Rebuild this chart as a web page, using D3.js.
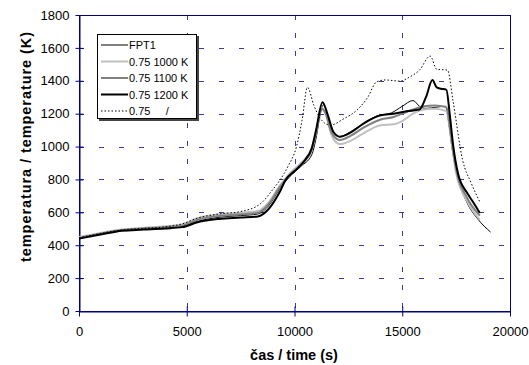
<!DOCTYPE html>
<html>
<head>
<meta charset="utf-8">
<script src="https://cdn.jsdelivr.net/npm/d3@7"></script>
<style>
  body { margin: 0; background: #fff; }
  svg text { font-family: "Liberation Sans", Arial, sans-serif; }
</style>
</head>
<body>
<svg id="chart" width="529" height="365"></svg>
<script>
// time in thousands of seconds, temperature in K
const fpt1Time = [0, 1, 2, 3, 4, 4.8, 5.5, 6.5, 7.5, 8.3, 8.8, 9.3, 9.8, 10.3, 10.8, 11.0, 11.2, 11.35, 11.55, 11.8, 12.1, 12.6, 13.2, 13.8, 14.5, 15.0, 15.5, 15.8, 16.1, 16.6, 17.0, 17.15, 17.3, 17.6, 18.0, 18.5, 19.1];
const fpt1Temp = [445, 470, 492, 500, 508, 515, 545, 570, 580, 590, 640, 740, 820, 880, 950, 1050, 1200, 1255, 1180, 1090, 1060, 1090, 1140, 1185, 1205, 1245, 1280, 1245, 1232, 1240, 1245, 1150, 1000, 800, 660, 560, 480];

const k1000Time = [0, 1, 2, 3, 4, 4.8, 5.5, 6.5, 7.5, 8.3, 8.8, 9.3, 9.8, 10.3, 10.8, 11.0, 11.25, 11.5, 11.75, 12.1, 12.6, 13.2, 14.0, 14.6, 15.0, 15.5, 16.0, 16.5, 17.05, 17.25, 17.5, 18.0, 18.6];
const k1000Temp = [450, 475, 495, 506, 515, 528, 565, 588, 598, 608, 660, 760, 840, 900, 990, 1090, 1240, 1180, 1060, 1015, 1035, 1080, 1130, 1135, 1155, 1200, 1225, 1230, 1215, 1060, 840, 670, 555];

const k1100Time = [0, 1, 2, 3, 4, 4.8, 5.5, 6.5, 7.5, 8.3, 8.8, 9.3, 9.8, 10.3, 10.8, 11.0, 11.25, 11.45, 11.7, 12.1, 12.6, 13.2, 14.0, 14.6, 15.0, 15.5, 16.0, 16.5, 17.05, 17.25, 17.5, 18.0, 18.6];
const k1100Temp = [445, 470, 492, 502, 510, 520, 555, 578, 588, 598, 650, 750, 830, 890, 980, 1080, 1230, 1200, 1090, 1040, 1065, 1115, 1165, 1180, 1200, 1225, 1245, 1250, 1240, 1080, 860, 690, 580];

const k1200Time = [0, 1, 2, 3, 4, 4.8, 5.5, 6.5, 7.5, 8.3, 8.8, 9.3, 9.6, 10, 10.5, 10.8, 11.0, 11.3, 11.55, 11.8, 12.1, 12.6, 13.2, 14.0, 14.6, 15.2, 15.8, 16.1, 16.4, 16.6, 16.8, 17.05, 17.2, 17.35, 17.6, 18.0, 18.3, 18.6];
const k1200Temp = [440, 465, 488, 495, 502, 510, 540, 560, 568, 575, 620, 720, 800, 850, 920, 990, 1100, 1270, 1190, 1090, 1060, 1085, 1140, 1190, 1200, 1215, 1225, 1300, 1404, 1360, 1352, 1345, 1200, 1020, 830, 720, 660, 596];

const dotTime = [0, 1, 2, 3, 4, 4.8, 5.5, 6.5, 7.5, 8.4, 9.0, 9.33, 9.7, 10.1, 10.35, 10.6, 10.9, 11.2, 11.65, 12.3, 12.9, 13.4, 13.8, 14.2, 14.9, 15.3, 15.8, 16.3, 16.6, 17.1, 17.35, 17.8, 18.2, 18.6];
const dotTemp = [445, 472, 493, 503, 512, 530, 565, 590, 605, 650, 740, 797, 880, 1003, 1160, 1360, 1250, 1170, 1130, 1170, 1222, 1300, 1392, 1405, 1398, 1420, 1465, 1550, 1470, 1465, 1283, 918, 778, 663];

const seriesNames = ["FPT1", "0.75 1000 K", "0.75 1100 K", "0.75 1200 K", "0.75     /"];
const xTicks = [0, 5000, 10000, 15000, 20000];
const yTicks = [0, 200, 400, 600, 800, 1000, 1200, 1400, 1600, 1800];

const styles = [
  {color: "#000", width: 1, dash: null},
  {color: "#c0c0c0", width: 2, dash: null},
  {color: "#808080", width: 2, dash: null},
  {color: "#000", width: 2, dash: null},
  {color: "#000", width: 1, dash: "1.5,2"}
];

const series = [
  {t: fpt1Time, v: fpt1Temp},
  {t: k1000Time, v: k1000Temp},
  {t: k1100Time, v: k1100Temp},
  {t: k1200Time, v: k1200Temp},
  {t: dotTime, v: dotTemp}
].map((s, i) => ({name: seriesNames[i], style: styles[i], points: s.t.map((t, j) => [t * 1000, s.v[j]])}));

const svg = d3.select("#chart");
const pLeft = 79, pRight = 510, pTop = 15, pBottom = 311;
const axisColor = "#000080";

const x = d3.scaleLinear().domain([0, 20000]).range([pLeft, pRight]);
const y = d3.scaleLinear().domain([0, 1800]).range([pBottom, pTop]);

// grid lines
const grid = svg.append("g");
grid.selectAll("line.h").data(yTicks.filter(d => d > 0 && d < 1800)).enter()
  .append("line")
  .attr("x1", pLeft).attr("x2", pRight)
  .attr("y1", d => Math.round(y(d)) + 0.5).attr("y2", d => Math.round(y(d)) + 0.5)
  .attr("stroke", "#3a3aa0").attr("stroke-dasharray", "5,15");
grid.selectAll("line.v").data(xTicks.filter(d => d > 0 && d < 20000)).enter()
  .append("line")
  .attr("y1", pTop).attr("y2", pBottom)
  .attr("x1", d => Math.round(x(d)) + 0.5).attr("x2", d => Math.round(x(d)) + 0.5)
  .attr("stroke", "#3a3aa0").attr("stroke-dasharray", "5,13");

// plot frame
svg.append("rect")
  .attr("x", pLeft + 0.5).attr("y", pTop + 0.5)
  .attr("width", pRight - pLeft).attr("height", pBottom - pTop)
  .attr("fill", "none").attr("stroke", axisColor);

// axes
const fmt = d3.format("d");
const xAxis = svg.append("g")
  .attr("transform", `translate(0,${pBottom + 0.5})`)
  .call(d3.axisBottom(x).tickValues(xTicks).tickFormat(fmt).tickSizeInner(5).tickSizeOuter(0).tickPadding(10));
xAxis.selectAll(".tick line").attr("y1", -5);
const yAxis = svg.append("g")
  .attr("transform", `translate(${pLeft + 0.5},0)`)
  .call(d3.axisLeft(y).tickValues(yTicks).tickFormat(fmt).tickSizeInner(4).tickSizeOuter(0).tickPadding(6));
yAxis.selectAll(".tick line").attr("x1", 4);
[xAxis, yAxis].forEach(a => {
  a.select(".domain").attr("stroke", axisColor);
  a.selectAll(".tick line").attr("stroke", axisColor);
  a.selectAll(".tick text").attr("fill", "#000").style("font-size", "13px")
    .style("font-family", "'Liberation Sans', Arial, sans-serif");
});

// lines
const line = d3.line().x(d => x(d[0])).y(d => y(d[1])).curve(d3.curveMonotoneX);
svg.append("g").selectAll("path").data(series).enter()
  .append("path")
  .attr("d", d => line(d.points))
  .attr("fill", "none")
  .attr("stroke", d => d.style.color)
  .attr("stroke-width", d => d.style.width)
  .attr("stroke-dasharray", d => d.style.dash);

// axis titles
svg.append("text")
  .attr("x", 294).attr("y", 360)
  .attr("text-anchor", "middle")
  .style("font-size", "14.5px").style("font-weight", "bold")
  .text("čas / time (s)");
svg.append("text")
  .attr("transform", "translate(31,147) rotate(-90)")
  .attr("text-anchor", "middle")
  .attr("textLength", 230)
  .style("font-size", "14.5px").style("font-weight", "bold")
  .text("temperatura / temperature (K)");

// legend
const lg = svg.append("g").attr("transform", "translate(97,34)");
lg.append("rect").attr("x", 2).attr("y", 2).attr("width", 100).attr("height", 85).attr("fill", "#444");
lg.append("rect").attr("x", 0.5).attr("y", 0.5).attr("width", 99).attr("height", 84)
  .attr("fill", "#fff").attr("stroke", "#000");
series.forEach((s, i) => {
  const yy = 11 + i * 16.5;
  lg.append("line").attr("x1", 4).attr("x2", 31).attr("y1", yy).attr("y2", yy)
    .attr("stroke", s.style.color).attr("stroke-width", s.style.width)
    .attr("stroke-dasharray", s.style.dash);
  lg.append("text").attr("x", 32).attr("y", yy + 4)
    .style("font-size", "11px").style("white-space", "pre")
    .text(s.name);
});
</script>
</body>
</html>
